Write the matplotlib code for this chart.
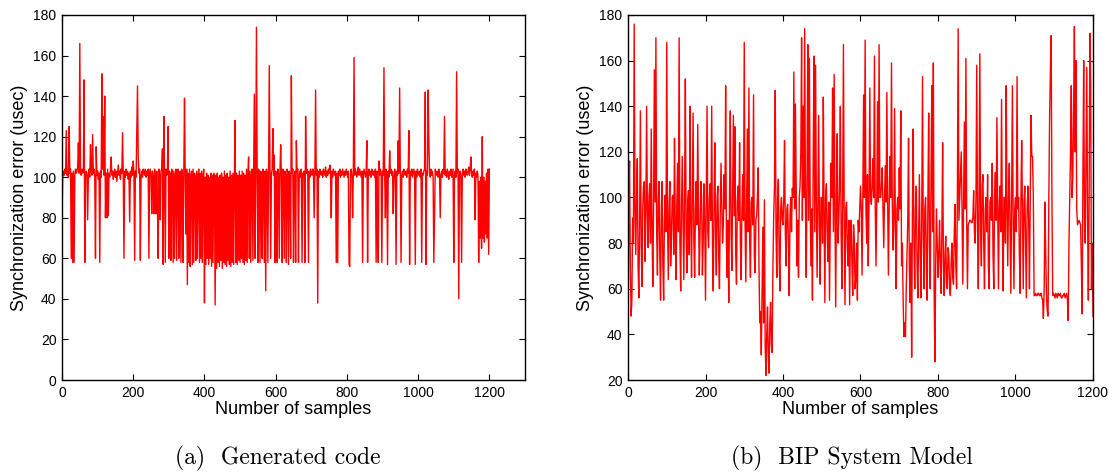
import numpy as np
import matplotlib
matplotlib.use("Agg")
import matplotlib.pyplot as plt

# ---------------- data ----------------
# Samples run 0..1200 in both panels; one value every 2 samples.
sample_first, sample_last = 0, 1200

# (a) Generated code
gen_values = [
    # 0-98
    80, 100, 103, 101, 104, 102, 123, 101, 103, 100, 125, 102, 104, 60, 102, 58, 103, 58, 101, 104,
    102, 103, 105, 117, 102, 166, 103, 101, 104, 102, 103, 148, 58, 101, 103, 102, 79, 101, 104, 100,
    116, 103, 101, 121, 102, 104, 100, 60, 115, 101,
    # 100-198
    103, 99, 102, 58, 103, 100, 151, 104, 130, 101, 140, 80, 102, 80, 104, 81, 102, 100, 104, 110,
    101, 103, 99, 102, 104, 100, 103, 98, 102, 106, 101, 103, 99, 104, 102, 122, 101, 60, 103, 100,
    104, 101, 103, 99, 102, 78, 103, 100, 105, 101,
    # 200-298
    108, 102, 59, 103, 100, 121, 145, 110, 102, 104, 59, 101, 103, 100, 104, 102, 101, 104, 100, 103,
    101, 104, 60, 102, 104, 101, 82, 103, 100, 82, 104, 101, 82, 103, 86, 60, 104, 101, 79, 103,
    104, 114, 57, 130, 102, 58, 104, 101, 103, 125,
    # 300-398
    60, 103, 101, 59, 104, 102, 58, 103, 60, 101, 104, 59, 102, 104, 60, 101, 103, 58, 104, 100,
    58, 103, 139, 101, 72, 104, 47, 102, 58, 104, 56, 101, 103, 57, 104, 58, 102, 100, 59, 103,
    60, 101, 104, 58, 102, 60, 103, 58, 101, 104,
    # 400-498
    38, 100, 57, 102, 60, 101, 57, 100, 60, 102, 56, 101, 58, 102, 100, 37, 101, 55, 102, 58,
    100, 56, 101, 59, 102, 55, 100, 58, 103, 57, 101, 56, 102, 59, 100, 57, 103, 56, 101, 58,
    102, 57, 100, 128, 58, 102, 57, 101, 59, 103,
    # 500-598
    58, 101, 60, 103, 58, 102, 57, 101, 59, 104, 58, 102, 110, 60, 103, 58, 101, 104, 59, 102,
    141, 60, 103, 174, 101, 58, 104, 102, 58, 103, 100, 60, 104, 102, 58, 103, 44, 104, 102, 58,
    101, 155, 103, 60, 102, 104, 124, 101, 111, 58,
    # 600-698
    103, 101, 58, 104, 102, 60, 103, 116, 101, 58, 104, 102, 60, 103, 101, 58, 104, 102, 57, 103,
    101, 60, 150, 102, 104, 58, 101, 103, 58, 118, 102, 104, 58, 101, 103, 100, 104, 58, 102, 101,
    103, 58, 130, 102, 104, 101, 58, 103, 100, 104,
    # 700-798
    102, 101, 104, 103, 80, 102, 143, 101, 104, 38, 103, 100, 104, 102, 101, 103, 100, 104, 102, 101,
    105, 100, 103, 101, 104, 102, 106, 101, 80, 103, 100, 104, 102, 101, 103, 58, 102, 58, 103, 101,
    104, 100, 103, 101, 104, 102, 100, 103, 101, 104,
    # 800-898
    102, 100, 103, 57, 56, 102, 104, 101, 80, 103, 159, 101, 104, 102, 100, 103, 105, 101, 104, 102,
    100, 103, 58, 101, 104, 102, 100, 103, 118, 58, 102, 104, 101, 103, 100, 104, 102, 101, 103, 100,
    104, 58, 103, 78, 58, 108, 101, 104, 102, 58,
    # 900-998
    103, 101, 154, 102, 80, 104, 101, 57, 103, 100, 113, 102, 104, 101, 103, 82, 100, 104, 102, 57,
    103, 101, 118, 102, 144, 104, 58, 101, 103, 100, 104, 102, 101, 103, 100, 104, 102, 123, 57, 103,
    101, 104, 100, 102, 104, 101, 57, 103, 100, 104,
    # 1000-1098
    102, 101, 103, 100, 104, 58, 102, 101, 103, 104, 142, 57, 103, 101, 143, 118, 102, 100, 104, 101,
    103, 100, 58, 80, 104, 102, 101, 103, 100, 104, 102, 80, 101, 103, 100, 104, 102, 130, 101, 103,
    100, 104, 102, 99, 103, 101, 104, 100, 102, 104,
    # 1100-1200
    58, 101, 103, 100, 152, 102, 104, 40, 101, 103, 100, 58, 102, 104, 101, 103, 100, 104, 102, 101,
    103, 105, 101, 104, 110, 102, 100, 103, 101, 104, 79, 102, 100, 103, 101, 58, 98, 70, 100, 65,
    120, 70, 100, 68, 98, 72, 102, 70, 104, 62, 104,
]

# (b) BIP System Model
bip_values = [
    # 0-98
    24, 100, 116, 70, 48, 55, 91, 80, 176, 95, 75, 100, 117, 70, 56, 90, 138, 80, 61, 95,
    105, 107, 72, 90, 140, 95, 78, 100, 106, 80, 130, 88, 61, 96, 156, 98, 170, 85, 66, 98,
    107, 75, 55, 95, 107, 70, 55, 90, 101, 85,
    # 100-198
    168, 90, 64, 95, 107, 70, 82, 100, 101, 75, 126, 88, 64, 98, 115, 85, 170, 80, 59, 95,
    118, 92, 64, 100, 152, 85, 67, 98, 103, 75, 140, 90, 65, 100, 137, 80, 65, 95, 107, 88,
    132, 92, 66, 85, 107, 100, 66, 80, 106, 90,
    # 200-298
    55, 98, 140, 85, 78, 100, 106, 90, 140, 80, 59, 95, 124, 85, 66, 100, 105, 75, 60, 92,
    115, 98, 80, 88, 110, 95, 149, 80, 65, 90, 54, 100, 138, 85, 68, 100, 136, 92, 131, 75,
    62, 98, 105, 90, 124, 80, 64, 95, 110, 90,
    # 300-398
    168, 90, 63, 95, 130, 85, 148, 80, 65, 98, 100, 88, 145, 75, 67, 90, 92, 100, 113, 70,
    45, 50, 31, 60, 87, 45, 99, 35, 22, 40, 52, 30, 23, 45, 54, 35, 32, 70, 92, 105,
    147, 85, 65, 100, 108, 75, 59, 95, 100, 90,
    # 400-498
    88, 100, 125, 85, 70, 95, 97, 80, 57, 92, 100, 85, 104, 100, 155, 95, 141, 105, 70, 90,
    65, 100, 105, 120, 170, 90, 140, 100, 174, 95, 65, 110, 167, 90, 161, 100, 70, 95, 55, 120,
    162, 85, 158, 100, 65, 95, 136, 90, 62, 100,
    # 500-598
    100, 80, 144, 95, 54, 100, 106, 85, 72, 98, 55, 90, 115, 100, 148, 85, 154, 95, 52, 100,
    128, 80, 90, 105, 140, 85, 60, 100, 167, 90, 53, 95, 98, 80, 70, 90, 53, 85, 90, 70,
    57, 88, 81, 60, 65, 80, 55, 90, 85, 95,
    # 600-698
    105, 95, 66, 100, 145, 100, 169, 95, 80, 110, 70, 98, 148, 100, 97, 105, 117, 100, 162, 95,
    70, 100, 142, 98, 167, 100, 100, 105, 113, 95, 78, 100, 114, 98, 146, 100, 66, 95, 118, 100,
    159, 98, 77, 90, 139, 85, 60, 95, 100, 90,
    # 700-798
    113, 95, 138, 70, 80, 55, 39, 45, 39, 60, 75, 90, 126, 70, 54, 80, 30, 95, 130, 80,
    60, 95, 105, 70, 56, 85, 110, 75, 56, 90, 153, 85, 60, 95, 100, 70, 55, 100, 137, 80,
    60, 110, 149, 85, 159, 60, 28, 70, 95, 80,
    # 800-898
    65, 75, 90, 70, 58, 85, 124, 70, 57, 75, 83, 62, 60, 78, 75, 60, 57, 72, 80, 65,
    62, 85, 97, 70, 60, 100, 174, 90, 100, 110, 120, 95, 62, 100, 133, 95, 161, 90, 60, 88,
    89, 90, 90, 89, 89, 91, 103, 85, 80, 100,
    # 900-998
    158, 90, 60, 100, 163, 85, 70, 105, 110, 80, 60, 95, 100, 85, 110, 70, 60, 98, 100, 90,
    115, 75, 60, 100, 111, 90, 135, 100, 60, 95, 105, 85, 143, 90, 59, 100, 100, 80, 149, 95,
    70, 100, 115, 85, 58, 100, 149, 90, 60, 95,
    # 1000-1098
    100, 85, 153, 95, 100, 75, 58, 100, 125, 90, 60, 98, 105, 80, 56, 95, 105, 90, 60, 100,
    136, 118, 118, 100, 57, 57, 58, 57, 57, 58, 58, 57, 57, 58, 56, 55, 47, 60, 98, 75,
    57, 50, 48, 100, 135, 155, 171, 100, 57, 58,
    # 1100-1200
    57, 56, 58, 57, 56, 58, 57, 57, 58, 56, 56, 57, 57, 58, 56, 57, 58, 55, 46, 80,
    100, 120, 149, 100, 110, 140, 175, 120, 160, 95, 88, 89, 90, 89, 88, 70, 49, 110, 160, 90,
    80, 120, 157, 90, 55, 100, 172, 150, 60, 80, 48,
]

gen_x = np.linspace(sample_first, sample_last, len(gen_values))
bip_x = np.linspace(sample_first, sample_last, len(bip_values))

# ---------------- figure ----------------
W, H = 1109, 472
fig = plt.figure(figsize=(W / 100, H / 100), dpi=100)

plt.rcParams["font.family"] = ["Liberation Sans", "DejaVu Sans"]


def px_axes(l, t, r, b):
    return [l / W, 1 - b / H, (r - l) / W, (b - t) / H]


def style(ax, xlim, ylim, yticks):
    ax.set_xlim(*xlim)
    ax.set_ylim(*ylim)
    ax.set_xticks([0, 200, 400, 600, 800, 1000, 1200])
    ax.set_yticks(yticks)
    ax.tick_params(direction="in", length=4, width=0.8, top=True, right=True,
                   labelsize=10, pad=4, colors="black")
    for s in ax.spines.values():
        s.set_linewidth(1.0)
        s.set_color("black")
    ax.set_xlabel("Number of samples", fontsize=13, labelpad=1)
    ax.set_ylabel("Synchronization error (usec)", fontsize=13, labelpad=4)


ax1 = fig.add_axes(px_axes(62, 15, 525, 380))
ax1.plot(gen_x, gen_values, color="red", lw=1.0)
style(ax1, (0, 1300), (0, 180), np.arange(0, 181, 20))

ax2 = fig.add_axes(px_axes(628, 15, 1093, 380))
ax2.plot(bip_x, bip_values, color="red", lw=1.0)
style(ax2, (0, 1200), (20, 180), np.arange(20, 181, 20))

fig.text(278 / W, 1 - 458 / H, "(a)  Generated code", family="cmr10",
         fontsize=17, ha="center", va="center")
fig.text(852 / W, 1 - 458 / H, "(b)  BIP System Model", family="cmr10",
         fontsize=17, ha="center", va="center")

fig.savefig("out.png", dpi=100)
